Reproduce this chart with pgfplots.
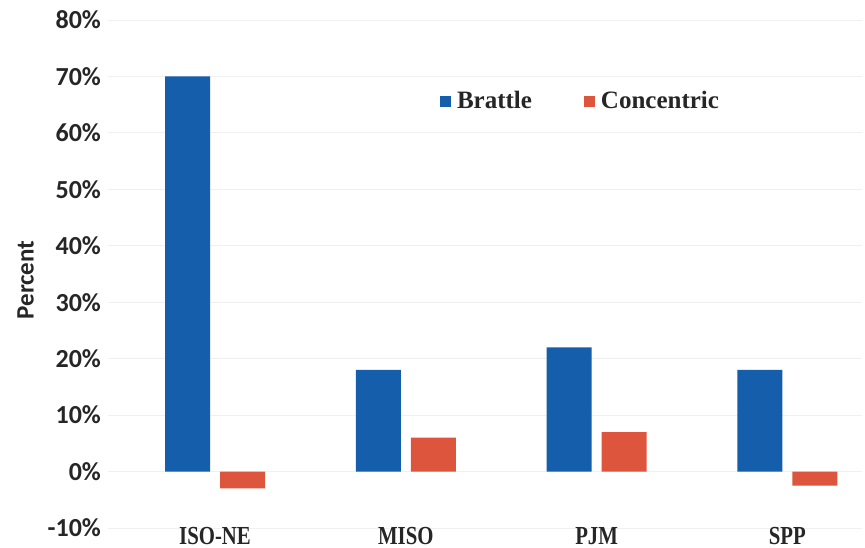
\documentclass[border=0pt]{standalone}
\usepackage{fontspec}
\setmainfont{Carlito}
\newfontfamily\serifb{Liberation Serif}
\newfontfamily\serifc[FakeStretch=0.8]{Liberation Serif}
\usepackage{pgfplots}
\pgfplotsset{compat=1.18}
\usetikzlibrary{calc}
\definecolor{brattle}{RGB}{21,94,172}
\definecolor{concentric}{RGB}{220,85,60}
\begin{document}
\begin{tikzpicture}
\begin{axis}[
    scale only axis,
    width=377pt, height=254pt,
    xmin=-0.561, xmax=3.391,
    ymin=-10, ymax=80,
    ytick={-10,0,...,80},
    yticklabel={\pgfmathprintnumber{\tick}\%},
    /pgf/number format/assume math mode=true,
    yticklabel style={font=\fontsize{13}{13}\selectfont\bfseries, color=black!85},
    xtick={0,1,2,3},
    xticklabels={ISO-NE,MISO,PJM,SPP},
    xticklabel style={font=\fontsize{13}{13}\serifc\bfseries, color=black!85, anchor=north, yshift=4pt},
    major tick length=0pt,
    axis line style={draw=none},
    ymajorgrids,
    grid style={black!6},
    ylabel={Percent},
    ylabel style={font=\fontsize{12.5}{12.5}\selectfont\bfseries, color=black!85},
    every axis y label/.append style={at={(ticklabel cs:0.5)}, xshift=-3pt},
    ybar, bar width=22.5pt,
    legend style={draw=none, fill=none, at={(0.628,0.84)}, anchor=center,
        font=\fontsize{12.5}{12.5}\serifb\bfseries, text=black!85,
        /tikz/every odd column/.append style={column sep=1pt},
        /tikz/every even column/.append style={column sep=24pt}},
    legend columns=2,
    legend image code/.code={\fill[#1] (0pt,-2.75pt) rectangle (5.5pt,2.75pt);},
]
\addplot[draw=none, fill=brattle, bar shift=-13.75pt] coordinates {(0,70) (1,18) (2,22) (3,18)};
\addlegendentry{Brattle}
\addplot[draw=none, fill=concentric, bar shift=13.75pt] coordinates {(0,-3) (1,6) (2,7) (3,-2.5)};
\addlegendentry{Concentric}
\coordinate (bl) at (rel axis cs:0,0);
\coordinate (tr) at (rel axis cs:1,1);
\end{axis}
\pgfresetboundingbox
\path[use as bounding box] ($(bl)+(-54pt,-10pt)$) rectangle ($(tr)+(1.5pt,10pt)$);
\end{tikzpicture}
\end{document}
